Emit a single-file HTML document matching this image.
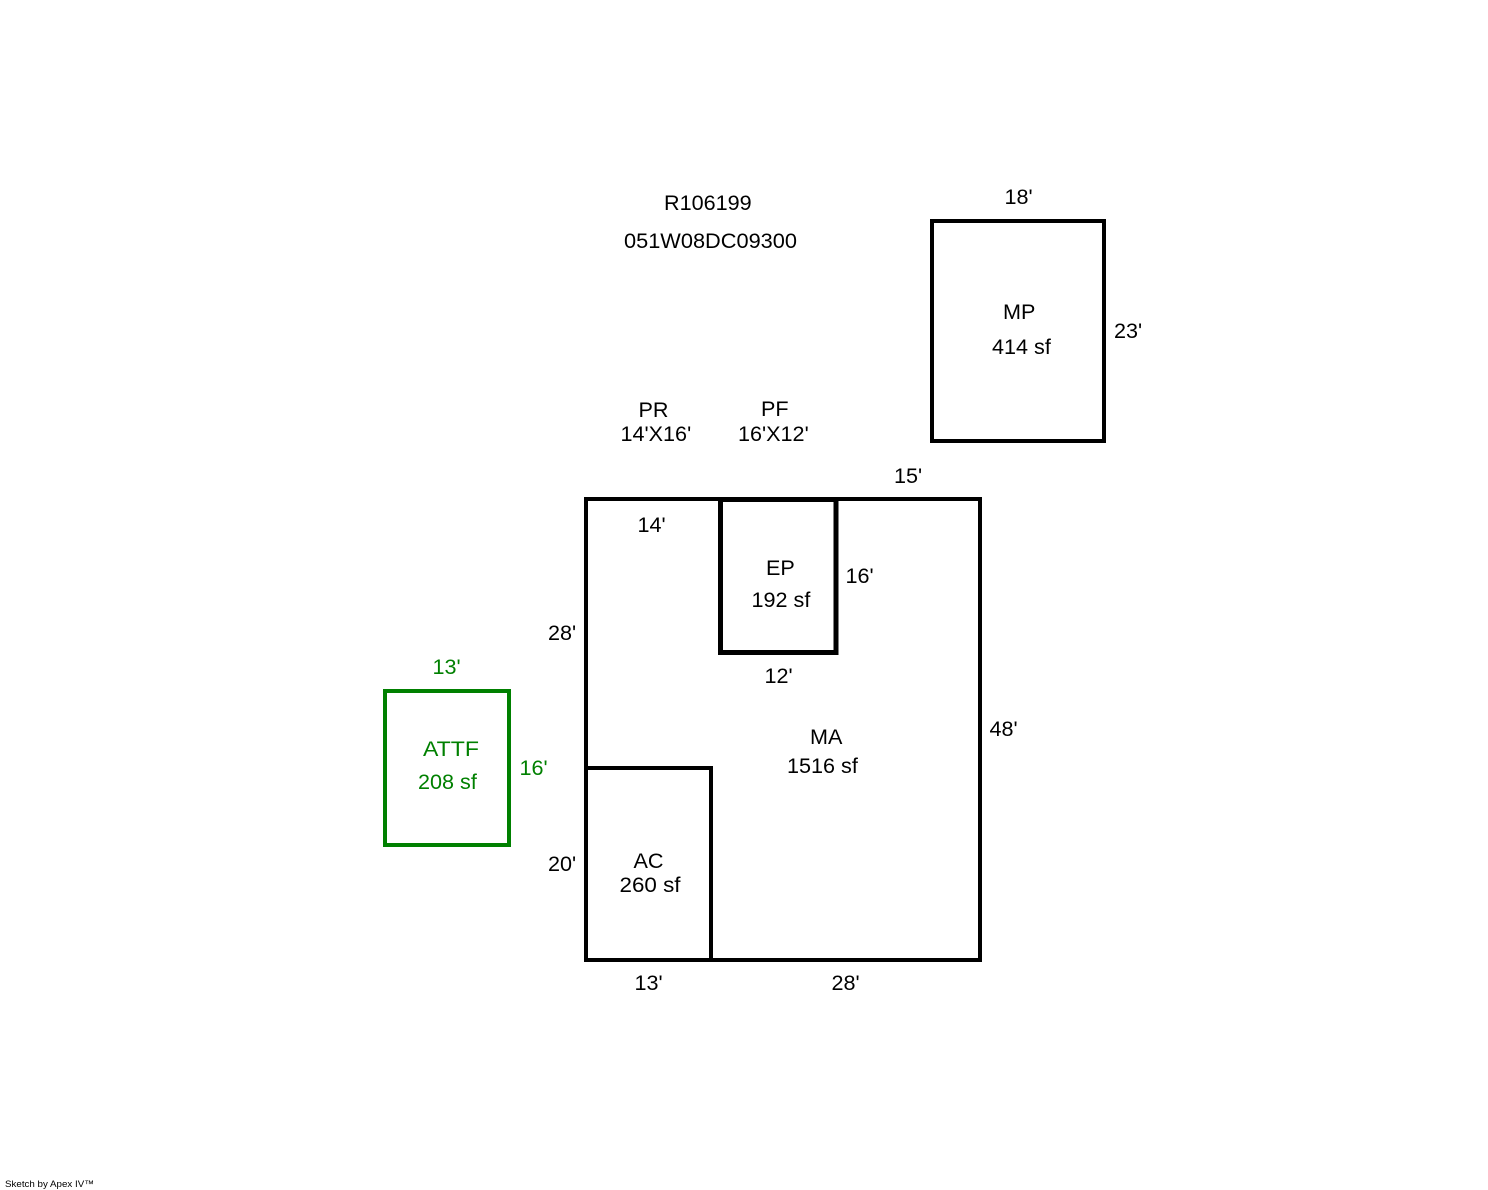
<!DOCTYPE html>
<html>
<head>
<meta charset="utf-8">
<style>
html,body{margin:0;padding:0;background:#fff;}
svg{display:block;}
text{font-family:"Liberation Sans",Arial,sans-serif;font-size:21.6px;fill:#000;}
.g{fill:#008000;}
.f{font-size:9.5px;}
</style>
</head>
<body>
<svg width="1488" height="1190" viewBox="0 0 1488 1190" xmlns="http://www.w3.org/2000/svg">
<rect width="1488" height="1190" fill="#fff"/>
<g fill="none" stroke="#000" stroke-width="4">
<rect x="586" y="499" width="394" height="461"/>
<rect x="586" y="768" width="125" height="192"/>
<rect x="932" y="221" width="172" height="220"/>
</g>
<rect x="720.5" y="499.5" width="115.5" height="153" fill="none" stroke="#000" stroke-width="5"/>
<rect x="385" y="691" width="124" height="154" fill="none" stroke="#008000" stroke-width="4"/>
<text x="664" y="210">R106199</text>
<text x="624" y="248" textLength="173" lengthAdjust="spacingAndGlyphs">051W08DC09300</text>
<text x="1004.5" y="204">18'</text>
<text x="1003" y="319">MP</text>
<text x="992" y="354">414 sf</text>
<text x="1114" y="338">23'</text>
<text x="638.5" y="417">PR</text>
<text x="620.5" y="441">14'X16'</text>
<text x="761" y="416">PF</text>
<text x="738" y="441">16'X12'</text>
<text x="894" y="483">15'</text>
<text x="637.5" y="532">14'</text>
<text x="766" y="575">EP</text>
<text x="751.5" y="607">192 sf</text>
<text x="845.5" y="583">16'</text>
<text x="548" y="640">28'</text>
<text x="764.5" y="683">12'</text>
<text class="g" x="432.5" y="674">13'</text>
<text class="g" x="423" y="756" textLength="56" lengthAdjust="spacingAndGlyphs">ATTF</text>
<text class="g" x="418" y="789">208 sf</text>
<text class="g" x="519.5" y="775">16'</text>
<text x="810" y="744">MA</text>
<text x="787" y="773">1516 sf</text>
<text x="989.5" y="736">48'</text>
<text x="548" y="871">20'</text>
<text x="633.5" y="868">AC</text>
<text x="619.5" y="892" textLength="61" lengthAdjust="spacingAndGlyphs">260 sf</text>
<text x="634.5" y="990">13'</text>
<text x="831.5" y="990">28'</text>
<text class="f" x="5" y="1187" textLength="89" lengthAdjust="spacingAndGlyphs">Sketch by Apex IV™</text>
</svg>
</body>
</html>
